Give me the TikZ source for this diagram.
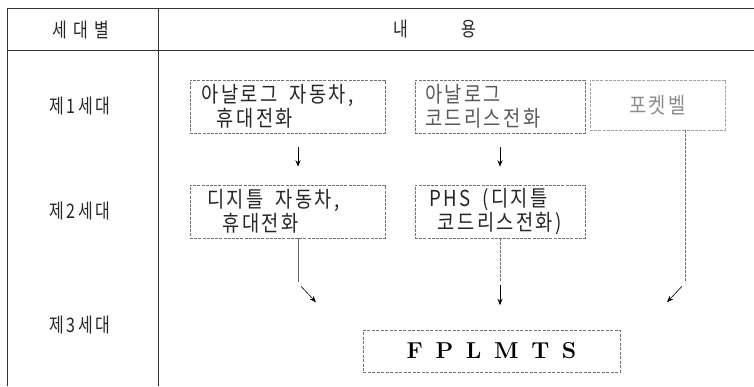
\documentclass[tikz,border=0pt]{standalone}
\usepackage{fontspec}
\newfontfamily\kr[FakeStretch=0.85,LetterSpace=11]{Noto Sans CJK KR}
\newfontfamily\krl[FakeStretch=0.8,LetterSpace=12]{Noto Sans CJK KR}
\newcommand\wsp{\hspace{0.55em}}
\usetikzlibrary{calc,arrows.meta}
\begin{document}
\begin{tikzpicture}[x=1pt,y=-1pt,
  tbl/.style={draw=black!80,line width=0.6pt},
  bx/.style={draw=black!55,line width=0.5pt,dash pattern=on 3pt off 1.2pt,
    minimum height=53pt,inner sep=0pt,font=\kr\fontsize{22}{24}\selectfont,text=black!85},
  lbl/.style={font=\krl\fontsize{20}{22}\selectfont,text=black!85},
  arr/.style={draw=black,line width=0.9pt,-{Stealth[length=6.5pt,width=5pt]}},
  lnk/.style={draw=black!60,line width=0.5pt},
  dlnk/.style={draw=black!55,line width=0.5pt,dash pattern=on 2.5pt off 1.5pt}]
\useasboundingbox (0,0) rectangle (754,386);
% table
\draw[tbl] (7,8) -- (754,8);
\draw[tbl] (7,50) -- (754,50);
\draw[tbl] (7,8) -- (7,386);
\draw[tbl] (158,8) -- (158,386);
% header
\node[lbl] (h1) at (81,30) {세\hspace{0.3em}대\hspace{0.3em}별};
\node[lbl] (h2) at (401,29) {내};
\node[lbl] (h3) at (469,29) {용};
% row labels
\node[lbl] (g1) at (80,106) {제1세대};
\node[lbl] (g2) at (80,211) {제2세대};
\node[lbl] (g3) at (80,325) {제3세대};
% boxes
\node[bx,minimum width=195pt,text width=172pt,align=left] (b1) at (287.5,106.5)
  {아날로그\wsp 자동차,\\\hspace{0.7em}휴대전화};
\node[bx,minimum width=170pt,text width=150pt,align=left,text=black!65] (b2) at (500,106.5)
  {아날로그\\코드리스전화};
\node[bx,minimum width=135pt,minimum height=50pt,draw=black!35,text=black!45] (b3) at (657.5,105)
  {포켓벨};
\node[bx,minimum width=195pt,text width=161pt,align=left] (b4) at (287.5,211.5)
  {디지틀\wsp 자동차,\\\hspace{0.7em}휴대전화};
\node[bx,minimum width=170pt,text width=142pt,align=left] (b5) at (500,211.5)
  {PHS\wsp (디지틀\\\hspace{0.4em}코드리스전화)};
\node[draw=black!55,line width=0.5pt,dash pattern=on 3pt off 1.5pt,
  minimum width=257pt,minimum height=42pt,font=\fontsize{23}{26}\selectfont\bfseries]
  (fp) at (491.5,351) {F\hspace{0.55em}P\hspace{0.55em}L\hspace{0.55em}M\hspace{0.55em}T\hspace{0.55em}S};
% arrows gen1 -> gen2
\draw[arr] ($(b1.south)+(10.5,14)$) -- ($(b4.north)+(10.5,-18)$);
\draw[arr] ($(b2.south)+(0,14)$) -- ($(b5.north)+(0,-18)$);
% to FPLMTS
\coordinate (c1) at ($(b4.south)+(10.5,44)$);
\coordinate (c2) at ($(b5.south)+(0,44)$);
\coordinate (c3) at ($(b3.south)+(27.5,152)$);
\draw[lnk] ($(b4.south)+(10.5,0)$) -- (c1);
\draw[dlnk] (b5.south) -- (c2);
\draw[dlnk] ($(b3.south)+(27.5,0)$) -- (c3);
\draw[arr,line width=0.6pt] ($(c1)+(3,4)$) -- ($(c1)+(18,20)$);
\draw[arr] ($(c2)+(0,3)$) -- ($(c2)+(0,23)$);
\draw[arr,line width=0.6pt] ($(c3)+(-3,4)$) -- ($(c3)+(-18,20)$);
\end{tikzpicture}
\end{document}
